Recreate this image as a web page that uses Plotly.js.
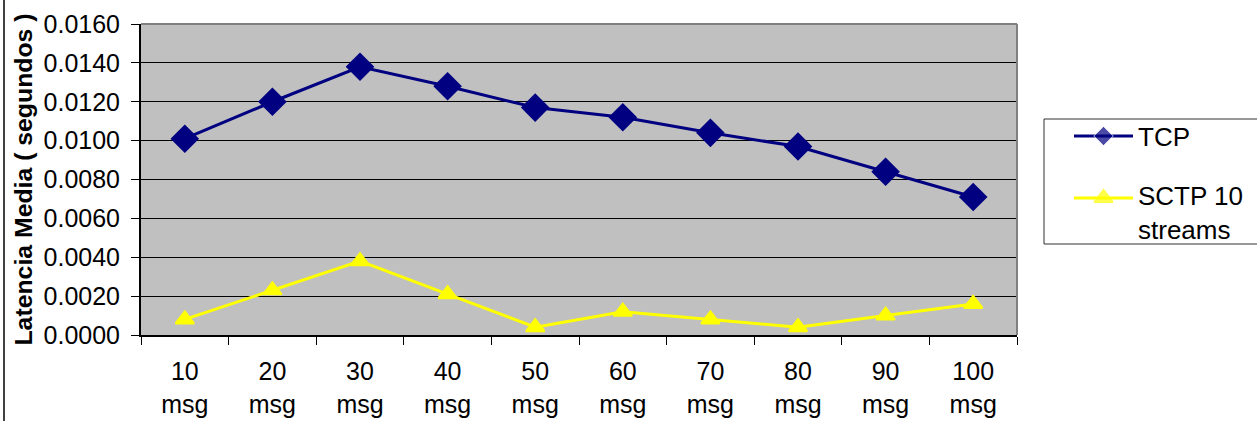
<!DOCTYPE html>
<html>
<head>
<meta charset="utf-8">
<script src="https://cdn.plot.ly/plotly-3.0.1.min.js"></script>
<style>
  html, body { margin: 0; padding: 0; background: #ffffff; overflow: hidden; }
  #chart { width: 1257px; height: 421px; }
</style>
</head>
<body>
<div id="chart"></div>
<script>
// Mean latency (seconds) per message batch
const categories = ['10 msg', '20 msg', '30 msg', '40 msg', '50 msg', '60 msg', '70 msg', '80 msg', '90 msg', '100 msg'];
const tickLabels = ['10<br>msg', '20<br>msg', '30<br>msg', '40<br>msg', '50<br>msg', '60<br>msg', '70<br>msg', '80<br>msg', '90<br>msg', '100<br>msg'];
const tcp = [0.0101, 0.0120, 0.0138, 0.0128, 0.0117, 0.0112, 0.0104, 0.0097, 0.0084, 0.0071];
const sctp = [0.0008, 0.0023, 0.0038, 0.0021, 0.0004, 0.0012, 0.0008, 0.0004, 0.0010, 0.0016];
const seriesNames = ['TCP', 'SCTP 10<br>streams'];
const yTicks = [0, 0.002, 0.004, 0.006, 0.008, 0.010, 0.012, 0.014, 0.016];

const W = 1257, H = 421;
// plot frame in pixels
const plotL = 141, plotR = 1017, plotT = 24, plotB = 335;
// legend frame in pixels (open on the right, it runs past the edge)
const legL = 1044, legT = 119, legB = 244;
const FONT = '"Liberation Sans", Arial, Helvetica, sans-serif';
const NAVY = '#000080', YELLOW = '#FFFF00';

const traces = [
  {
    x: categories, y: tcp, name: 'TCP', type: 'scatter', mode: 'lines+markers',
    line: { color: NAVY, width: 3 },
    marker: { symbol: 'diamond', size: 22, color: NAVY },
    showlegend: false, hoverinfo: 'x+y'
  },
  {
    x: categories, y: sctp, name: 'SCTP 10 streams', type: 'scatter', mode: 'lines+markers',
    line: { color: YELLOW, width: 3 },
    marker: { symbol: 'triangle-up', size: 16, color: YELLOW, line: { color: YELLOW, width: 2 } },
    showlegend: false, hoverinfo: 'x+y'
  },
  // legend keys, drawn on a pixel-scaled helper subplot
  {
    x: [1074, 1103.5, 1133], y: [136, 136, 136], xaxis: 'x2', yaxis: 'y2',
    type: 'scatter', mode: 'lines+markers',
    line: { color: NAVY, width: 3 },
    marker: { symbol: 'diamond', size: [0, 15, 0], color: NAVY },
    showlegend: false, hoverinfo: 'skip'
  },
  {
    x: [1074, 1103.5, 1133], y: [198, 198, 198], xaxis: 'x2', yaxis: 'y2',
    type: 'scatter', mode: 'lines+markers',
    line: { color: YELLOW, width: 3 },
    marker: { symbol: 'triangle-up', size: [0, 16, 0], color: YELLOW, line: { color: YELLOW, width: 2 } },
    showlegend: false, hoverinfo: 'skip'
  }
];

const frameLine = { color: '#303030', width: 1 };

const layout = {
  width: W, height: H,
  margin: { l: 0, r: 0, t: 0, b: 0 },
  paper_bgcolor: '#ffffff',
  plot_bgcolor: 'rgba(0,0,0,0)',
  font: { family: FONT, size: 25, color: '#000000' },
  showlegend: false,
  xaxis: {
    domain: [plotL / W, plotR / W],
    type: 'category',
    categoryorder: 'array', categoryarray: categories,
    range: [-0.5, categories.length - 0.5],
    tickmode: 'array', tickvals: categories, ticktext: tickLabels,
    tickson: 'boundaries',
    ticks: 'outside', ticklen: 8, tickwidth: 1, tickcolor: '#000000',
    ticklabelstandoff: 13,
    showline: true, linecolor: '#000000', linewidth: 2,
    showgrid: false, zeroline: false,
    tickfont: { family: FONT, size: 25, color: '#000000' },
    automargin: false, fixedrange: true
  },
  yaxis: {
    domain: [1 - plotB / H, 1 - plotT / H],
    range: [0, 0.016],
    tickmode: 'array', tickvals: yTicks,
    tickformat: '.4f',
    ticks: 'outside', ticklen: 8, tickwidth: 1, tickcolor: '#000000',
    ticklabelstandoff: 6,
    showline: true, linecolor: '#000000', linewidth: 2,
    showgrid: true, gridcolor: '#000000', gridwidth: 1,
    zeroline: false,
    tickfont: { family: FONT, size: 25, color: '#000000' },
    title: {
      text: 'Latencia Media ( segundos )',
      font: { family: FONT, size: 24.8, color: '#000000', weight: 'bold' },
      standoff: 4
    },
    automargin: false, fixedrange: true
  },
  xaxis2: {
    domain: [1040 / W, 1], range: [1040, W], anchor: 'y2',
    visible: false, showgrid: false, zeroline: false, fixedrange: true
  },
  yaxis2: {
    domain: [0, 1], range: [H, 0], anchor: 'x2',
    visible: false, showgrid: false, zeroline: false, fixedrange: true
  },
  shapes: [
    // grey plot area
    { type: 'rect', xref: 'x domain', yref: 'y domain', x0: 0, x1: 1, y0: 0, y1: 1,
      fillcolor: '#C0C0C0', line: { width: 0 }, layer: 'below' },
    // grey frame on the top and right of the plot area
    { type: 'line', xref: 'x domain', yref: 'y domain', x0: 0, x1: 1, y0: 1, y1: 1,
      line: { color: '#808080', width: 2 }, layer: 'above' },
    { type: 'line', xref: 'x domain', yref: 'y domain', x0: 1, x1: 1, y0: 0, y1: 1,
      line: { color: '#808080', width: 2 }, layer: 'above' },
    // chart border on the far left
    { type: 'line', xref: 'paper', yref: 'paper', x0: 4 / W, x1: 4 / W, y0: 0, y1: 1,
      line: { color: '#404040', width: 2 }, layer: 'above' },
    // legend frame: top, left and bottom edges
    { type: 'line', xref: 'paper', yref: 'paper', x0: legL / W, x1: 1.05, y0: 1 - legT / H, y1: 1 - legT / H,
      line: frameLine, layer: 'above' },
    { type: 'line', xref: 'paper', yref: 'paper', x0: legL / W, x1: legL / W, y0: 1 - legT / H, y1: 1 - legB / H,
      line: frameLine, layer: 'above' },
    { type: 'line', xref: 'paper', yref: 'paper', x0: legL / W, x1: 1.05, y0: 1 - legB / H, y1: 1 - legB / H,
      line: frameLine, layer: 'above' }
  ],
  annotations: [
    { xref: 'x2', yref: 'y2', x: 1136, y: 137, text: seriesNames[0], showarrow: false,
      xanchor: 'left', yanchor: 'middle', align: 'left',
      font: { family: FONT, size: 26, color: '#000000' } },
    { xref: 'x2', yref: 'y2', x: 1136, y: 213, text: seriesNames[1], showarrow: false,
      xanchor: 'left', yanchor: 'middle', align: 'left',
      font: { family: FONT, size: 26, color: '#000000' } }
  ]
};

Plotly.newPlot('chart', traces, layout, { displayModeBar: false, staticPlot: true });
</script>
</body>
</html>
